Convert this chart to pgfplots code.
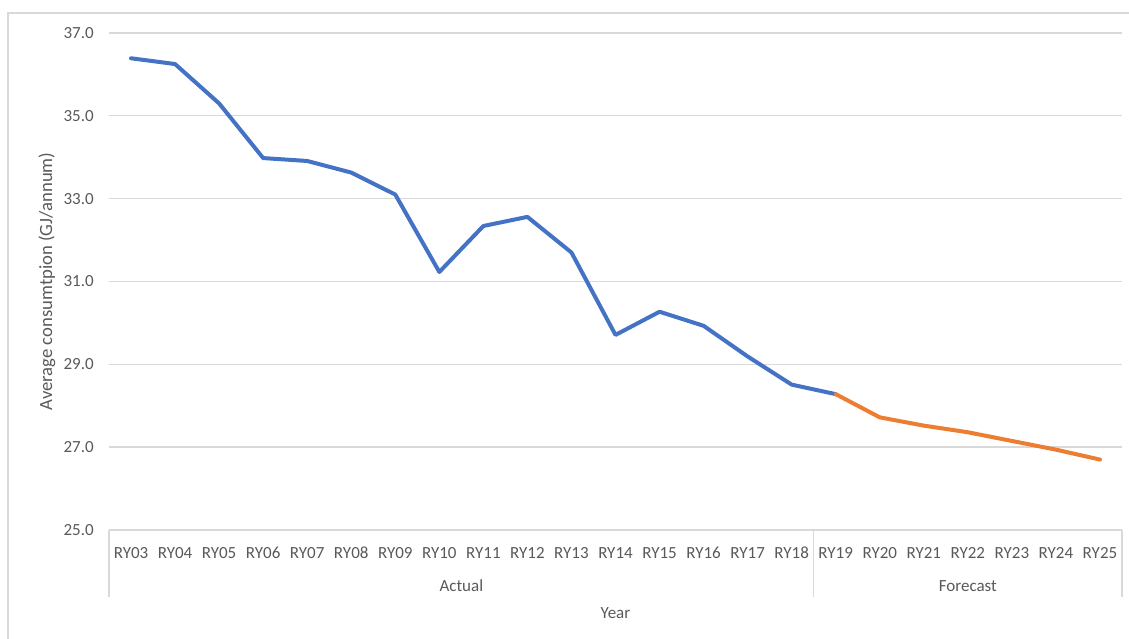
\documentclass[border=0pt]{standalone}
\usepackage{pgfplots}
\pgfplotsset{compat=1.18}
\usepackage{fontspec}
\setmainfont{Carlito}
\definecolor{txt}{HTML}{595959}
\definecolor{grd}{HTML}{D9D9D9}
\definecolor{actblue}{HTML}{4472C4}
\definecolor{fcorange}{HTML}{ED7D31}
\begin{document}
\begin{tikzpicture}[x=0.75pt,y=0.75pt]
\useasboundingbox (0,0) rectangle (1129,639);
% chart frame
\draw[grd, line width=1pt] (8,0) -- (8,626) -- (1129,626);
\begin{axis}[
  at={(81.75pt,81.75pt)}, anchor=south west,
  scale only axis, width=759.75pt, height=372.75pt,
  xmin=-0.5, xmax=22.5, ymin=25, ymax=37,
  ytick={25,27,...,37},
  xtick={0,...,22},
  xticklabels={RY03,RY04,RY05,RY06,RY07,RY08,RY09,RY10,RY11,RY12,RY13,RY14,RY15,RY16,RY17,RY18,RY19,RY20,RY21,RY22,RY23,RY24,RY25},
  major tick length=0pt,
  axis line style={draw=none},
  ymajorgrids, grid style={grd, line width=1pt},
  font=\fontsize{12.75pt}{15pt}\selectfont,
  tick label style={txt},
  /pgf/number format/assume math mode=true,
  yticklabel={\pgfmathprintnumber[fixed,fixed zerofill,precision=1]{\tick}},
  yticklabel style={anchor=east, inner sep=0pt, xshift=-11.25pt},
  xticklabel style={anchor=center, inner sep=0pt, yshift=-17pt},
  xlabel={Year},
  xlabel style={txt, at={([yshift=-62pt]axis description cs:0.5,0)}, anchor=center},
  ylabel={Average consumtpion (GJ/annum)},
  ylabel style={txt, font=\fontsize{14pt}{16pt}\selectfont, at={([xshift=-46.5pt]axis description cs:0,0.5)}, anchor=center},
  clip=false,
]
% category group frame below the axis
\draw[grd, line width=1pt] (axis cs:-0.5,25) -- ++(0pt,-50.25pt);
\draw[grd, line width=1pt] (axis cs:15.5,25) -- ++(0pt,-50.25pt);
\draw[grd, line width=1pt] (axis cs:22.5,25) -- ++(0pt,-50.25pt);
\node[txt, anchor=center] at ([yshift=-42pt]axis cs:7.5,25) {Actual};
\node[txt, anchor=center] at ([yshift=-42pt]axis cs:19,25) {Forecast};
% actual consumption
\addplot[actblue, line width=3pt, line join=round, line cap=round] coordinates {
  (0,36.39) (1,36.25) (2,35.30) (3,33.98) (4,33.91) (5,33.63) (6,33.10)
  (7,31.23) (8,32.34) (9,32.56) (10,31.70) (11,29.71) (12,30.27) (13,29.93)
  (14,29.19) (15,28.51) (16,28.28)
};
% forecast consumption
\addplot[fcorange, line width=3pt, line join=round, line cap=round] coordinates {
  (16,28.28) (17,27.72) (18,27.52) (19,27.36) (20,27.15) (21,26.94) (22,26.70)
};
\end{axis}
\end{tikzpicture}
\end{document}
